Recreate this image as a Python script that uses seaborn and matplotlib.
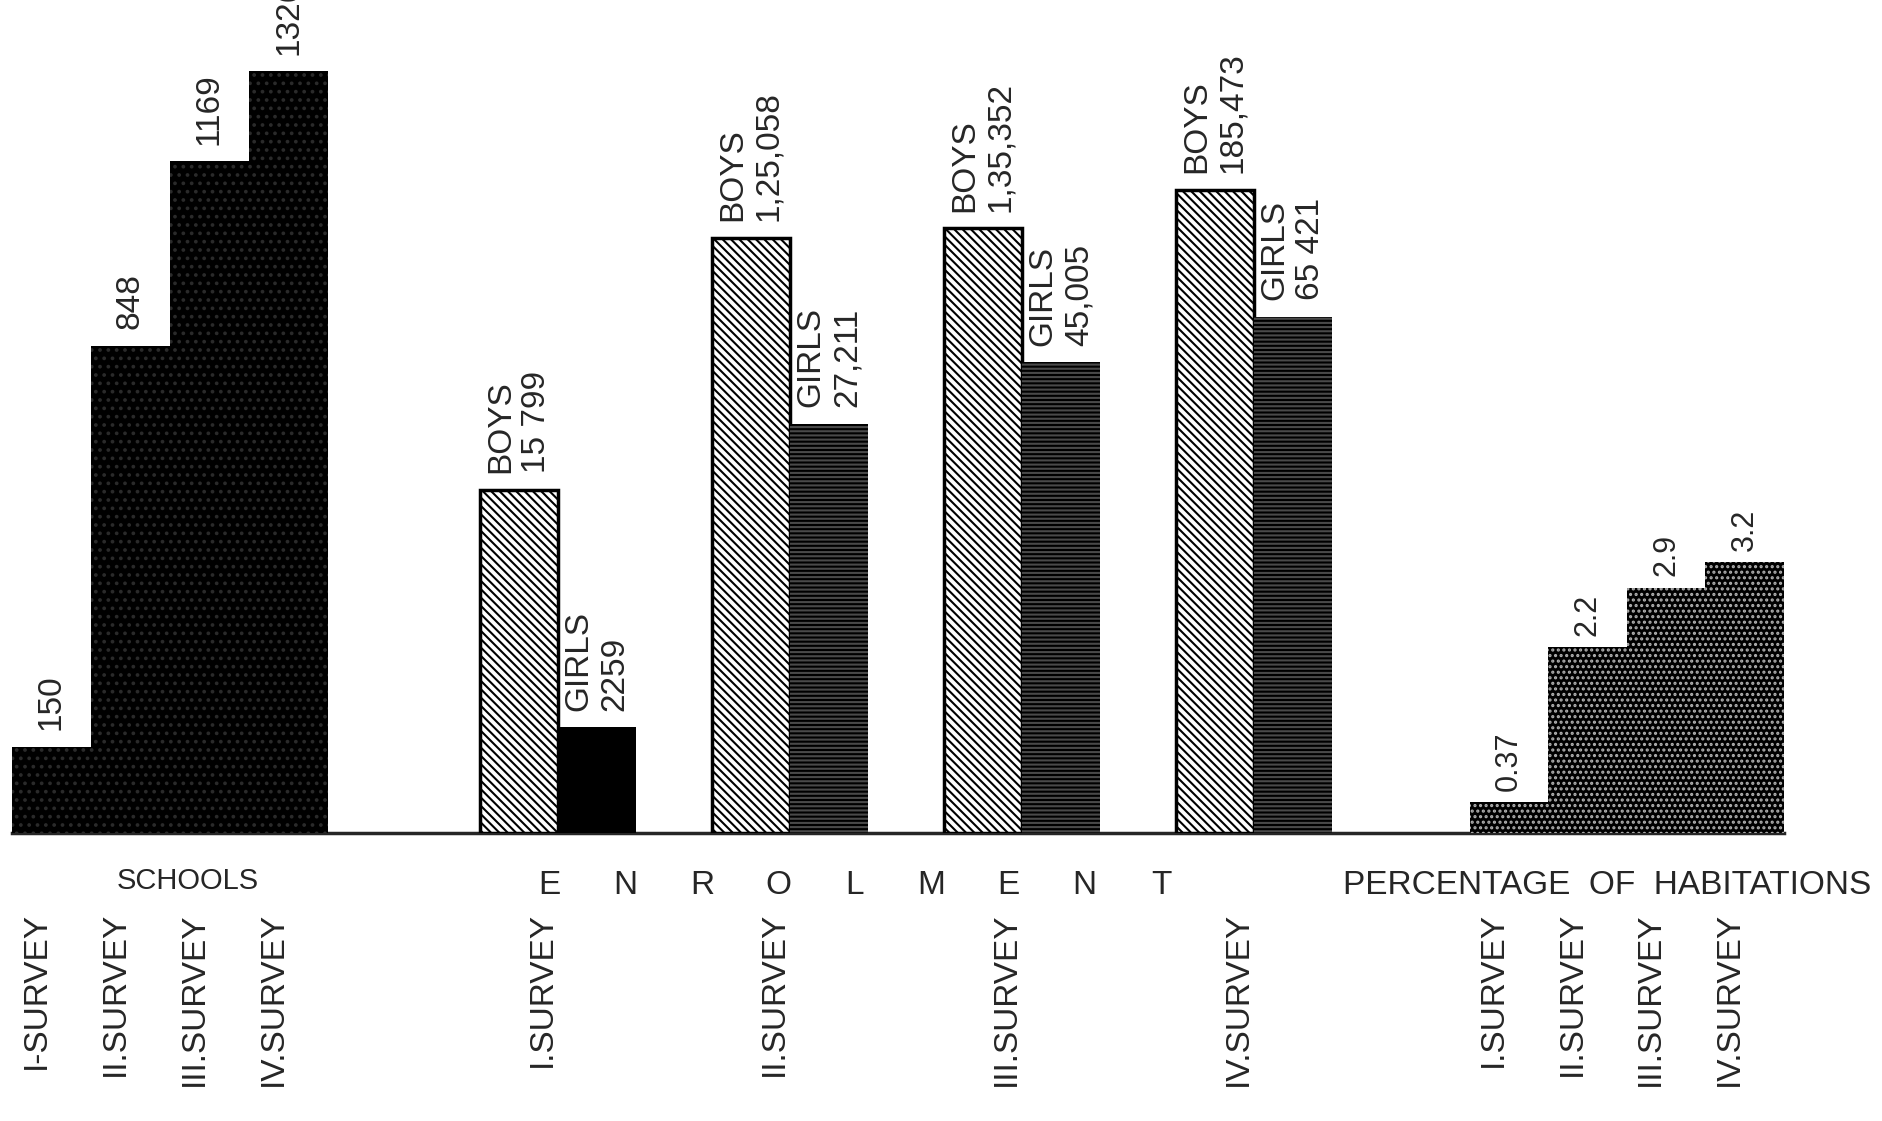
import pandas as pd
import matplotlib.pyplot as plt
import seaborn as sns

# Survey labels
school_ticks = ["I-SURVEY", "II.SURVEY", "III.SURVEY", "IV.SURVEY"]
enrol_ticks = ["I.SURVEY", "II.SURVEY", "III.SURVEY", "IV.SURVEY"]
hab_ticks = ["I.SURVEY", "II.SURVEY", "III.SURVEY", "IV.SURVEY"]

# Number of schools
schools = [150, 848, 1169, 1326]
school_labels = ["150", "848", "1169", "1326"]

# Enrolment
boys = [15799, 125058, 135352, 185473]
girls = [2259, 27211, 45005, 65421]
boys_labels = ["15 799", "1,25,058", "1,35,352", "185,473"]
girls_labels = ["2259", "27,211", "45,005", "65 421"]

# Percentage of habitations
habitations = [0.37, 2.2, 2.9, 3.2]
hab_labels = ["0.37", "2.2", "2.9", "3.2"]

sns.set_style("white")
plt.rcParams["font.family"] = ["Liberation Sans", "DejaVu Sans"]
plt.rcParams["hatch.linewidth"] = 1.5

W, H = 1883, 1121
fig = plt.figure(figsize=(W / 100, H / 100), dpi=100)
base = (H - 833) / H
tall = 833 / H


def box(x0, x1):
    return [x0 / W, base, (x1 - x0) / W, tall]


# Baseline running under all groups
ax0 = fig.add_axes(box(12, 1784))
ax0.set_xticks([])
ax0.set_yticks([])
sns.despine(ax=ax0, left=True)
ax0.spines["bottom"].set_linewidth(2.5)
ax0.patch.set_visible(False)

# Schools
ax1 = fig.add_axes(box(12, 328))
df_s = pd.DataFrame({"survey": school_ticks, "value": schools})
sns.barplot(data=df_s, x="survey", y="value", color="black", width=1.0,
            errorbar=None, ax=ax1)
ax1.set_ylim(0, 1450)
for bar in ax1.patches:
    bar.set_facecolor("black")
    bar.set_edgecolor("#2a2a2a")
    bar.set_hatch("..")
    bar.set_linewidth(0)
ax1.bar_label(ax1.containers[0], labels=school_labels, rotation=90,
              padding=12, fontsize=24)

# Enrolment (compressed, log-like scale as in the original drawing)
ax2 = fig.add_axes(box(442, 1370))
ax2.set_yscale("symlog", linthresh=1000, linscale=0.02)
df_e = pd.DataFrame({
    "survey": enrol_ticks * 2,
    "gender": ["BOYS"] * 4 + ["GIRLS"] * 4,
    "value": boys + girls,
})
sns.barplot(data=df_e, x="survey", y="value", hue="gender",
            palette=["white", "black"], width=0.672, errorbar=None,
            legend=False, ax=ax2)
ax2.set_ylim(0, 879000)
for bar in ax2.containers[0]:
    bar.set_facecolor("white")
    bar.set_edgecolor("black")
    bar.set_hatch("\\\\\\\\")
    bar.set_linewidth(2.5)
for i, bar in enumerate(ax2.containers[1]):
    bar.set_facecolor("black")
    bar.set_edgecolor("#4a4a4a" if i > 0 else "black")
    bar.set_hatch("----" if i > 0 else None)
    bar.set_linewidth(0)
ax2.bar_label(ax2.containers[0], labels=["BOYS\n" + t for t in boys_labels],
              rotation=90, padding=12, fontsize=24, multialignment="left")
ax2.bar_label(ax2.containers[1], labels=["GIRLS\n" + t for t in girls_labels],
              rotation=90, padding=12, fontsize=24, multialignment="left")

# Percentage of habitations
ax3 = fig.add_axes(box(1470, 1784))
df_h = pd.DataFrame({"survey": hab_ticks, "value": habitations})
sns.barplot(data=df_h, x="survey", y="value", color="black", width=1.0,
            errorbar=None, ax=ax3)
ax3.set_ylim(0, 9.84)
for bar in ax3.patches:
    bar.set_facecolor("black")
    bar.set_edgecolor("#b0b0b0")
    bar.set_hatch("...")
    bar.set_linewidth(0)
ax3.bar_label(ax3.containers[0], labels=hab_labels, rotation=90,
              padding=8, fontsize=22)

for ax in (ax1, ax2, ax3):
    ax.set_xlabel("")
    ax.set_ylabel("")
    ax.yaxis.set_visible(False)
    ax.tick_params(axis="x", length=0, pad=57, labelsize=24)
    plt.setp(ax.get_xticklabels(), rotation=90, ha="right")
    sns.despine(ax=ax, left=True, bottom=True)
    ax.patch.set_visible(False)

# Group titles
fig.text(188 / W, 1 - 881 / H, "SCHOOLS", ha="center", va="center", fontsize=21)
for i, ch in enumerate("ENROLMENT"):
    fig.text((549 + i * 76.5) / W, 1 - 885 / H, ch, ha="center", va="center",
             fontsize=24)
fig.text(1607 / W, 1 - 885 / H, "PERCENTAGE  OF  HABITATIONS", ha="center",
         va="center", fontsize=24)

fig.savefig("out.png", dpi=100)
